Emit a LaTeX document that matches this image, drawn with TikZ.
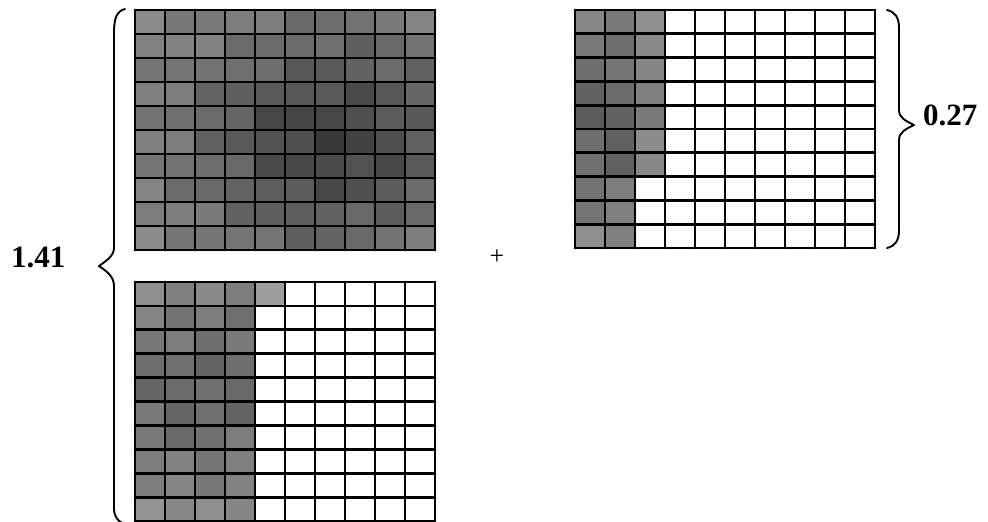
\documentclass[tikz,border=0pt]{standalone}
\usepackage{fontspec}
\setmainfont{Liberation Serif}
\begin{document}
\begin{tikzpicture}[x=1pt,y=-1pt,
  gridline/.style={line width=2.8pt,black,line cap=round},
  bracestyle/.style={line width=1.9pt,black,line cap=round,line join=round},
  numlabel/.style={font=\fontsize{31}{31}\selectfont\bfseries,inner sep=0pt},
  cellshade/.style={fill=black!#1,draw=none}]
\useasboundingbox (0,0) rectangle (988,522);
% ---------- shaded cells ----------
% top-left grid: all 100 cells
\foreach \i in {0,...,9}{
  \foreach \j in {0,...,9}{
    \pgfmathtruncatemacro{\s}{44+26*exp(-((\i-6)^2+(\j-5)^2)/20)+mod(7*\i+13*\j,9)}
    \fill[cellshade=\s] ({135+30*\i},{10+24*\j}) rectangle ++(30,24);
  }
}
% bottom-left grid: 41 cells
\foreach \i in {0,...,3}{
  \foreach \j in {0,...,9}{
    \pgfmathtruncatemacro{\s}{40+16*exp(-((\i-2)^2+(\j-4)^2)/15)+mod(5*\i+11*\j,9)}
    \fill[cellshade=\s] ({135+30*\i},{282+23.9*\j}) rectangle ++(30,23.9);
  }
}
\fill[cellshade=38] (255,282) rectangle ++(30,23.9);
% top-right grid: 27 cells
\foreach \i in {0,1}{
  \foreach \j in {0,...,9}{
    \pgfmathtruncatemacro{\s}{42+16*exp(-((\i-1)^2+(\j-4)^2)/15)+mod(5*\i+11*\j,9)}
    \fill[cellshade=\s] ({575+30*\i},{10+23.8*\j}) rectangle ++(30,23.8);
  }
}
\foreach \j in {0,...,6}{
  \pgfmathtruncatemacro{\s}{44+mod(11*\j,9)}
  \fill[cellshade=\s] (635,{10+23.8*\j}) rectangle ++(30,23.8);
}
% ---------- grid lines ----------
\foreach \k in {0,...,10}{
  \draw[gridline] ({135+30*\k},10) -- ({135+30*\k},250);
  \draw[gridline] (135,{10+24*\k}) -- (435,{10+24*\k});
  \draw[gridline] ({135+30*\k},282) -- ({135+30*\k},521);
  \draw[gridline] (135,{282+23.9*\k}) -- (435,{282+23.9*\k});
  \draw[gridline] ({575+30*\k},10) -- ({575+30*\k},248);
  \draw[gridline] (575,{10+23.8*\k}) -- (875,{10+23.8*\k});
}
% ---------- braces ----------
\draw[bracestyle] (125,9) .. controls (117,11) and (114,18) .. (114,32)
  -- (114,248) .. controls (114,256) and (106,261) .. (99,266)
  .. controls (106,271) and (114,276) .. (114,286)
  -- (114,508) .. controls (114,516) and (117,520) .. (122,523);
\draw[bracestyle] (887,10) .. controls (895,12) and (899,17) .. (899,28)
  -- (899,110) .. controls (899,118) and (906,121) .. (914,125)
  .. controls (906,129) and (899,132) .. (899,140)
  -- (899,230) .. controls (899,241) and (895,246) .. (887,248);
% ---------- labels ----------
\node[numlabel,anchor=base west] (total) at (11,267) {1.41};
\node[numlabel,anchor=base west] (part) at (923,125) {0.27};
\node[font=\fontsize{26}{26}\selectfont,inner sep=0pt] (plus) at (497,257) {+};
\end{tikzpicture}
\end{document}
